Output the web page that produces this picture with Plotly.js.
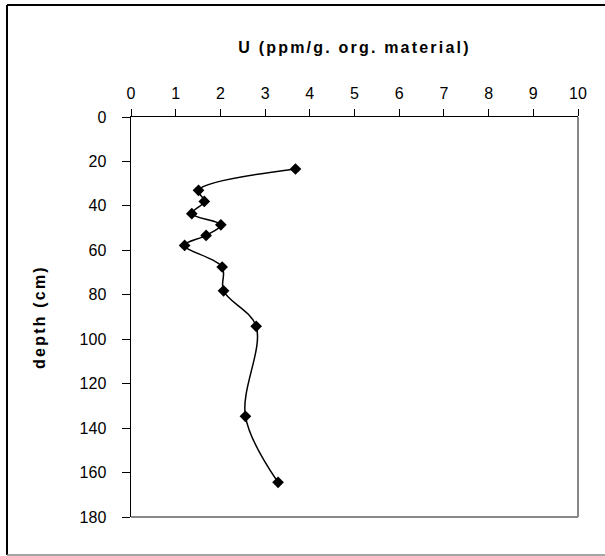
<!DOCTYPE html>
<html>
<head>
<meta charset="utf-8">
<script src="https://cdn.plot.ly/plotly-3.0.1.min.js"></script>
<style>
  html, body { margin: 0; padding: 0; background: #fff; }
  #chart { width: 605px; height: 556px; }
  .xtitle, .ytitle { letter-spacing: 2.2px; }
</style>
</head>
<body>
<div id="chart"></div>
<script>
// Data
var uranium = [3.68, 1.51, 1.64, 1.36, 2.01, 1.68, 1.20, 2.04, 2.07, 2.80, 2.56, 3.29];
var depth   = [23.4, 33.0, 38.0, 43.5, 48.5, 53.3, 57.8, 67.5, 78.2, 94.2, 134.7, 164.4];
var xTickVals = [0, 1, 2, 3, 4, 5, 6, 7, 8, 9, 10];
var yTickVals = [0, 20, 40, 60, 80, 100, 120, 140, 160, 180];
var xTitle = 'U (ppm/g. org. material)';
var yTitle = 'depth (cm)';

var FONT = 'Liberation Sans, Arial, sans-serif';

var trace = {
  x: uranium,
  y: depth,
  type: 'scatter',
  mode: 'lines+markers',
  line: { color: '#000000', width: 1.5, shape: 'spline', smoothing: 1 },
  marker: { symbol: 'diamond', size: 9, color: '#000000' },
  hoverinfo: 'x+y'
};

// plot area in pixels: left 131, right 578, top 117, bottom 517
function px2x(p) { return (p - 131) / 447; }
function py2y(p) { return (517 - p) / 400; }

var layout = {
  width: 605,
  height: 556,
  margin: { l: 131, r: 27, t: 117, b: 39, pad: 0 },
  paper_bgcolor: '#ffffff',
  plot_bgcolor: '#ffffff',
  showlegend: false,
  font: { family: FONT, size: 16, color: '#000000' },
  xaxis: {
    side: 'top',
    range: [0, 10],
    tickvals: xTickVals,
    ticks: 'outside',
    ticklen: 7,
    tickwidth: 1,
    tickcolor: '#000000',
    ticklabelstandoff: 3,
    showline: true,
    linecolor: '#000000',
    linewidth: 1.5,
    showgrid: false,
    zeroline: false,
    tickfont: { family: FONT, size: 16, color: '#000000' },
    title: { text: xTitle, font: { family: FONT, size: 16, color: '#000000', weight: 'bold' }, standoff: 27 }
  },
  yaxis: {
    range: [180, 0],
    tickvals: yTickVals,
    ticks: 'outside',
    ticklen: 8,
    tickwidth: 1,
    tickcolor: '#000000',
    ticklabelstandoff: 12,
    showline: true,
    linecolor: '#000000',
    linewidth: 1.5,
    showgrid: false,
    zeroline: false,
    tickfont: { family: FONT, size: 16, color: '#000000' },
    title: { text: yTitle, font: { family: FONT, size: 16, color: '#000000', weight: 'bold' }, standoff: 30 }
  },
  shapes: [
    // plot-area border (right and bottom, grey)
    { type: 'line', xref: 'paper', yref: 'paper', x0: 1, x1: 1, y0: 0, y1: 1, line: { color: '#888888', width: 2 } },
    { type: 'line', xref: 'paper', yref: 'paper', x0: 0, x1: 1, y0: 0, y1: 0, line: { color: '#888888', width: 2 } },
    // outer chart frame
    { type: 'line', xref: 'paper', yref: 'paper', x0: px2x(7), x1: px2x(7), y0: py2y(555), y1: py2y(5), line: { color: '#000000', width: 2 } },
    { type: 'line', xref: 'paper', yref: 'paper', x0: px2x(7), x1: px2x(612), y0: py2y(5), y1: py2y(5), line: { color: '#000000', width: 2 } },
    { type: 'line', xref: 'paper', yref: 'paper', x0: px2x(7), x1: px2x(612), y0: py2y(555), y1: py2y(555), line: { color: '#888888', width: 1.5 } }
  ]
};

Plotly.newPlot('chart', [trace], layout, { staticPlot: true, displayModeBar: false });
</script>
</body>
</html>
